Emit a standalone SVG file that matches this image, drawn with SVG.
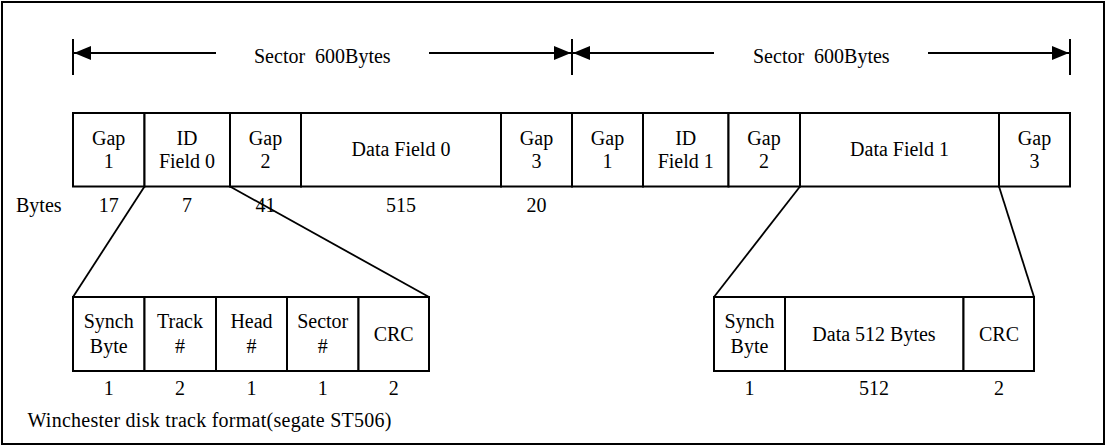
<svg xmlns="http://www.w3.org/2000/svg" width="1107" height="447" viewBox="0 0 1107 447">
<style>
text{font-family:"Liberation Serif","Times New Roman",serif;font-size:20px;fill:#000;text-anchor:middle}
.st{text-anchor:start}
.cell{fill:#fff;stroke:#000;stroke-width:2}
.ln{stroke:#000;stroke-width:1.8;fill:none}
.dim{stroke:#000;stroke-width:2;fill:none}
</style>
<defs>
<marker id="ah" markerUnits="userSpaceOnUse" markerWidth="18" markerHeight="16" viewBox="0 0 18 16" refX="17" refY="8" orient="auto">
<path d="M0,1 L17,8 L0,15 Z" fill="#000"/>
</marker>
</defs>
<rect x="2" y="2" width="1102" height="442" fill="#fff" stroke="#000" stroke-width="2"/>

<g id="dimensions">
<line class="dim" x1="73" y1="39" x2="73" y2="75"/>
<line class="dim" x1="572" y1="39" x2="572" y2="75"/>
<line class="dim" x1="1070" y1="39" x2="1070" y2="75"/>
<line class="dim" x1="216" y1="53" x2="74" y2="53" marker-end="url(#ah)"/>
<line class="dim" x1="429" y1="53" x2="571" y2="53" marker-end="url(#ah)"/>
<line class="dim" x1="714" y1="53" x2="573" y2="53" marker-end="url(#ah)"/>
<line class="dim" x1="928" y1="53" x2="1069" y2="53" marker-end="url(#ah)"/>
<text class="st" x="254" y="63" xml:space="preserve">Sector  600Bytes</text>
<text class="st" x="753" y="63" xml:space="preserve">Sector  600Bytes</text>
</g>

<g id="connectors">
<line class="ln" x1="144.5" y1="186.5" x2="73" y2="297"/>
<line class="ln" x1="230" y1="186.5" x2="429" y2="297"/>
<line class="ln" x1="800" y1="186.5" x2="714" y2="297"/>
<line class="ln" x1="999" y1="186.5" x2="1034" y2="297"/>
</g>

<g id="track">
<g id="gap1-0"><rect class="cell" x="73" y="113" width="71.5" height="73.5"/><text x="108.7" y="145">Gap</text><text x="108.7" y="168">1</text></g>
<g id="idfield-0"><rect class="cell" x="144.5" y="113" width="85.5" height="73.5"/><text x="187" y="145">ID</text><text x="187" y="168">Field 0</text></g>
<g id="gap2-0"><rect class="cell" x="230" y="113" width="71" height="73.5"/><text x="265.5" y="145">Gap</text><text x="265.5" y="168">2</text></g>
<g id="datafield-0"><rect class="cell" x="301" y="113" width="200" height="73.5"/><text x="401" y="156">Data Field 0</text></g>
<g id="gap3-0"><rect class="cell" x="501" y="113" width="71" height="73.5"/><text x="536.5" y="145">Gap</text><text x="536.5" y="168">3</text></g>
<g id="gap1-1"><rect class="cell" x="572" y="113" width="71" height="73.5"/><text x="607.5" y="145">Gap</text><text x="607.5" y="168">1</text></g>
<g id="idfield-1"><rect class="cell" x="643" y="113" width="85.5" height="73.5"/><text x="685.7" y="145">ID</text><text x="685.7" y="168">Field 1</text></g>
<g id="gap2-1"><rect class="cell" x="728.5" y="113" width="71.5" height="73.5"/><text x="764" y="145">Gap</text><text x="764" y="168">2</text></g>
<g id="datafield-1"><rect class="cell" x="800" y="113" width="199" height="73.5"/><text x="899.5" y="156">Data Field 1</text></g>
<g id="gap3-1"><rect class="cell" x="999" y="113" width="71" height="73.5"/><text x="1034.5" y="145">Gap</text><text x="1034.5" y="168">3</text></g>
</g>

<g id="bytes-row">
<text class="st" x="16" y="212">Bytes</text>
<text x="108.7" y="212">17</text>
<text x="187" y="212">7</text>
<text x="265.5" y="212">41</text>
<text x="401" y="212">515</text>
<text x="536.5" y="212">20</text>
</g>

<g id="id-field-detail">
<g id="synch-0"><rect class="cell" x="73" y="297" width="71.5" height="74"/><text x="108.7" y="328">Synch</text><text x="108.7" y="353">Byte</text></g>
<g id="track-no"><rect class="cell" x="144.5" y="297" width="71.5" height="74"/><text x="180" y="328">Track</text><text x="180" y="353">#</text></g>
<g id="head-no"><rect class="cell" x="216" y="297" width="71" height="74"/><text x="251.5" y="328">Head</text><text x="251.5" y="353">#</text></g>
<g id="sector-no"><rect class="cell" x="287" y="297" width="71.5" height="74"/><text x="322.7" y="328">Sector</text><text x="322.7" y="353">#</text></g>
<g id="crc-0"><rect class="cell" x="358.5" y="297" width="70.5" height="74"/><text x="393.7" y="341">CRC</text></g>
<text x="108.7" y="395">1</text>
<text x="180" y="395">2</text>
<text x="251.5" y="395">1</text>
<text x="322.7" y="395">1</text>
<text x="393.7" y="395">2</text>
</g>

<g id="data-field-detail">
<g id="synch-1"><rect class="cell" x="714" y="297" width="71" height="74"/><text x="749.5" y="328">Synch</text><text x="749.5" y="353">Byte</text></g>
<g id="data512"><rect class="cell" x="785" y="297" width="178.5" height="74"/><text x="874" y="341">Data 512 Bytes</text></g>
<g id="crc-1"><rect class="cell" x="963.5" y="297" width="70.5" height="74"/><text x="999" y="341">CRC</text></g>
<text x="749.5" y="395">1</text>
<text x="874" y="395">512</text>
<text x="999" y="395">2</text>
</g>

<text id="caption" class="st" x="27.5" y="427" textLength="364" lengthAdjust="spacing">Winchester disk track format(segate ST506)</text>
</svg>
